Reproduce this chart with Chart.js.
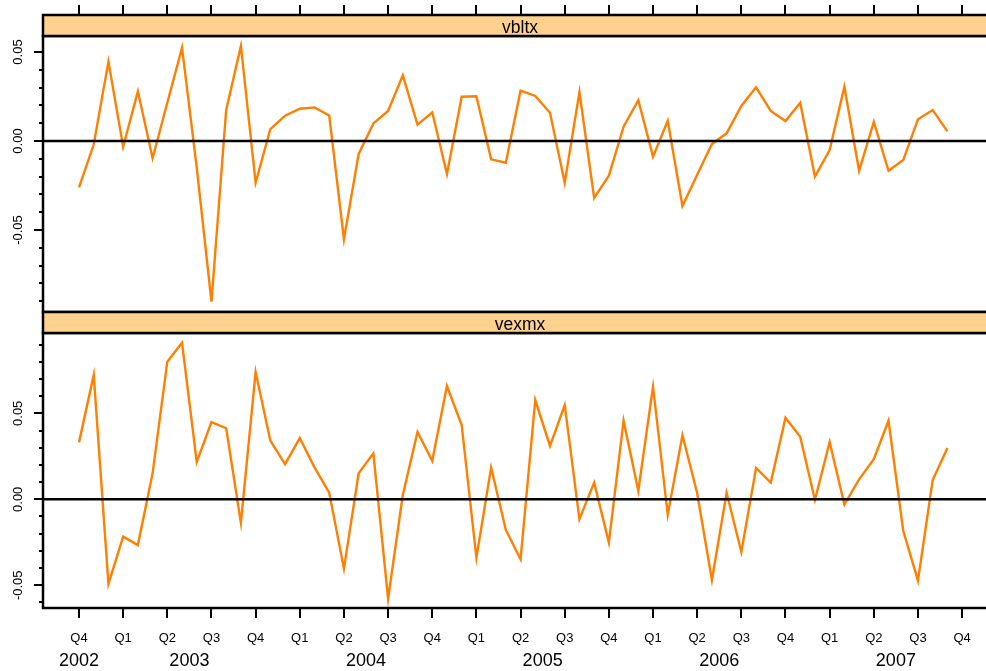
<!DOCTYPE html>
<html>
<head>
<meta charset="utf-8">
<script src="https://cdn.jsdelivr.net/npm/chart.js@4.4.1/dist/chart.umd.min.js"></script>
<style>
  html, body { margin: 0; padding: 0; background: #ffffff; overflow: hidden; width: 986px; height: 671px; }
  canvas { position: absolute; left: 0; top: 0; }
</style>
</head>
<body>
<canvas id="panelTop" width="1000" height="671"></canvas>
<canvas id="panelBottom" width="1000" height="671"></canvas>
<script>
// Monthly returns, Oct 2002 - Sep 2007
const months = [
  '2002-10', '2002-11', '2002-12',
  '2003-01', '2003-02', '2003-03', '2003-04', '2003-05', '2003-06',
  '2003-07', '2003-08', '2003-09', '2003-10', '2003-11', '2003-12',
  '2004-01', '2004-02', '2004-03', '2004-04', '2004-05', '2004-06',
  '2004-07', '2004-08', '2004-09', '2004-10', '2004-11', '2004-12',
  '2005-01', '2005-02', '2005-03', '2005-04', '2005-05', '2005-06',
  '2005-07', '2005-08', '2005-09', '2005-10', '2005-11', '2005-12',
  '2006-01', '2006-02', '2006-03', '2006-04', '2006-05', '2006-06',
  '2006-07', '2006-08', '2006-09', '2006-10', '2006-11', '2006-12',
  '2007-01', '2007-02', '2007-03', '2007-04', '2007-05', '2007-06',
  '2007-07', '2007-08', '2007-09'
];

const vbltx = [
  -0.0260, -0.0020,  0.0446, -0.0032,  0.0279, -0.0097,  0.0215,  0.0524, -0.0150, -0.0903,
   0.0174,  0.0534, -0.0234,  0.0067,  0.0142,  0.0181,  0.0189,  0.0143, -0.0552, -0.0073,
   0.0099,  0.0169,  0.0369,  0.0092,  0.0161, -0.0185,  0.0249,  0.0251, -0.0103, -0.0122,
   0.0283,  0.0253,  0.0159, -0.0234,  0.0275, -0.0320, -0.0195,  0.0080,  0.0229, -0.0088,
   0.0114, -0.0365, -0.0190, -0.0017,  0.0043,  0.0197,  0.0302,  0.0169,  0.0112,  0.0215,
  -0.0200, -0.0051,  0.0305, -0.0167,  0.0107, -0.0167, -0.0107,  0.0122,  0.0174,  0.0054
];

const vexmx = [
   0.0331,  0.0723, -0.0492, -0.0217, -0.0266,  0.0151,  0.0800,  0.0910,  0.0217,  0.0449,
   0.0413, -0.0136,  0.0740,  0.0341,  0.0205,  0.0356,  0.0186,  0.0038, -0.0403,  0.0151,
   0.0267, -0.0578,  0.0025,  0.0391,  0.0224,  0.0659,  0.0432, -0.0340,  0.0184, -0.0178,
  -0.0349,  0.0577,  0.0310,  0.0548, -0.0115,  0.0097, -0.0252,  0.0457,  0.0050,  0.0655,
  -0.0090,  0.0372,  0.0035, -0.0469,  0.0038, -0.0306,  0.0182,  0.0097,  0.0474,  0.0364,
  -0.0004,  0.0333, -0.0031,  0.0116,  0.0233,  0.0457, -0.0183, -0.0473,  0.0112,  0.0298
];

// Quarter ticks along the time axis
const quarterLabels = [
  'Q4',
  'Q1', 'Q2', 'Q3', 'Q4',
  'Q1', 'Q2', 'Q3', 'Q4',
  'Q1', 'Q2', 'Q3', 'Q4',
  'Q1', 'Q2', 'Q3', 'Q4',
  'Q1', 'Q2', 'Q3', 'Q4'
];
const quarterYears = [
  2002,
  2003, 2003, 2003, 2003,
  2004, 2004, 2004, 2004,
  2005, 2005, 2005, 2005,
  2006, 2006, 2006, 2006,
  2007, 2007, 2007, 2007
];

// Labelled values on the vertical axes
const yLabelValues = [-0.05, 0, 0.05];

const FONT = '"Liberation Sans", Arial, Helvetica, sans-serif';
const STRIP_FILL = '#FFD18F';
const LINE_COLOR = '#FF7F00';

// month offset counted from Oct 2002
function monthIndex(ym) {
  const [yy, mm] = ym.split('-').map(Number);
  return (yy - 2002) * 12 + (mm - 10);
}
function quarterIndex(i) {
  const q = Number(quarterLabels[i].slice(1));
  return (quarterYears[i] - 2002) * 12 + ((q - 1) * 3 + 1) - 10;
}

// Strip, frame, zero line, ticks and labels for each lattice panel
const panelDecor = {
  id: 'panelDecor',
  afterDatasetsDraw(chart, args, opts) {
    const { ctx, chartArea: a, scales: { x, y } } = chart;
    ctx.save();
    ctx.strokeStyle = '#000';
    ctx.fillStyle = '#000';
    ctx.lineCap = 'butt';

    // horizontal reference at zero
    ctx.lineWidth = 2.6;
    const y0 = y.getPixelForValue(0);
    ctx.beginPath();
    ctx.moveTo(a.left, y0);
    ctx.lineTo(a.right, y0);
    ctx.stroke();

    // panel frame
    ctx.lineWidth = 2.5;
    ctx.strokeRect(a.left, a.top, a.right - a.left, a.bottom - a.top);

    // strip with the series name
    const sh = opts.stripHeight;
    const sTop = a.top - sh;
    ctx.fillStyle = STRIP_FILL;
    ctx.fillRect(a.left, sTop, a.right - a.left, sh);
    ctx.strokeRect(a.left, sTop, a.right - a.left, sh);
    ctx.fillStyle = '#000';
    ctx.font = '17.5px ' + FONT;
    ctx.textAlign = 'center';
    ctx.textBaseline = 'alphabetic';
    ctx.fillText(opts.title, (a.left + a.right) / 2, a.top - 3.5);

    // vertical axis ticks: every 0.01, longer at the labelled values
    ctx.lineWidth = 2;
    const lo = Math.ceil(y.min * 100 - 1e-9);
    const hi = Math.floor(y.max * 100 + 1e-9);
    for (let k = lo; k <= hi; k++) {
      const py = Math.round(y.getPixelForValue(k / 100));
      const len = (k % 5 === 0) ? 9 : 4;
      ctx.beginPath();
      ctx.moveTo(a.left - len, py);
      ctx.lineTo(a.left, py);
      ctx.stroke();
    }
    ctx.font = '13px ' + FONT;
    ctx.textAlign = 'center';
    ctx.textBaseline = 'alphabetic';
    yLabelValues.forEach(v => {
      const py = y.getPixelForValue(v);
      ctx.save();
      ctx.translate(a.left - 21, py);
      ctx.rotate(-Math.PI / 2);
      ctx.fillText(v.toFixed(2), 0, 0);
      ctx.restore();
    });

    // time axis ticks
    quarterLabels.forEach((lab, i) => {
      const px = Math.round(x.getPixelForValue(quarterIndex(i)));
      if (px < a.left || px > a.right) return;
      ctx.beginPath();
      if (opts.topTicks) {
        ctx.moveTo(px, sTop);
        ctx.lineTo(px, sTop - 10);
      } else {
        ctx.moveTo(px, a.bottom);
        ctx.lineTo(px, a.bottom + 10);
      }
      ctx.stroke();
    });

    if (!opts.topTicks) {
      ctx.font = '13px ' + FONT;
      ctx.textAlign = 'center';
      ctx.textBaseline = 'middle';
      quarterLabels.forEach((lab, i) => {
        ctx.fillText(lab, x.getPixelForValue(quarterIndex(i)), a.bottom + 30);
      });
      // year names centred under their quarters
      const groups = {};
      quarterYears.forEach((yr, i) => {
        (groups[yr] = groups[yr] || []).push(quarterIndex(i));
      });
      ctx.font = '18px ' + FONT;
      Object.keys(groups).forEach(yr => {
        const g = groups[yr];
        const mid = g.reduce((s, v) => s + v, 0) / g.length;
        ctx.fillText(String(yr), x.getPixelForValue(mid), a.bottom + 53);
      });
    }
    ctx.restore();
  }
};

function makePanel(canvasId, name, values, yMin, yMax, padTop, padBottom, topTicks, stripHeight) {
  return new Chart(document.getElementById(canvasId), {
    type: 'line',
    data: {
      datasets: [{
        label: name,
        data: months.map((m, i) => ({ x: monthIndex(m), y: values[i] })),
        borderColor: LINE_COLOR,
        borderWidth: 2.4,
        pointRadius: 0,
        tension: 0,
        fill: false
      }]
    },
    options: {
      responsive: false,
      animation: false,
      devicePixelRatio: 1,
      events: [],
      layout: { padding: { left: 43, right: 3, top: padTop, bottom: padBottom } },
      scales: {
        x: { type: 'linear', min: -2.446, max: 62.37, display: false },
        y: { type: 'linear', min: yMin, max: yMax, display: false }
      },
      plugins: {
        legend: { display: false },
        tooltip: { enabled: false },
        panelDecor: { title: name, topTicks: topTicks, stripHeight: stripHeight }
      }
    },
    plugins: [panelDecor]
  });
}

makePanel('panelTop', 'vbltx', vbltx, -0.09607, 0.05899, 36, 671 - 312, true, 21);
makePanel('panelBottom', 'vexmx', vexmx, -0.0632, 0.09669, 333, 671 - 608, false, 21);
</script>
</body>
</html>
